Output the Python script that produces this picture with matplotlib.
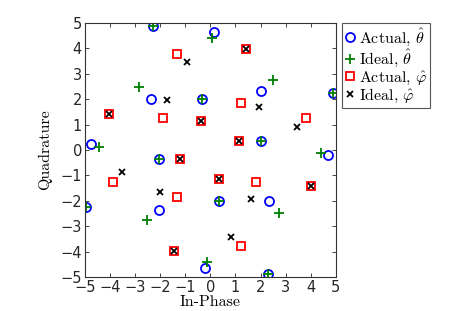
import matplotlib
matplotlib.use('Agg')
import matplotlib.pyplot as plt

# constellation points
actual_theta_i = [-2.30, 0.15, -2.38, -0.35, 2.00, 4.89, -4.76, -2.04, 2.00, 4.69, -4.95, -2.04, 0.35, 2.33, -0.22, 2.28]
actual_theta_q = [4.87, 4.66, 2.00, 2.00, 2.33, 2.26, 0.22, -0.34, 0.37, -0.20, -2.26, -2.34, -2.00, -2.00, -4.66, -4.87]

ideal_theta_i = [-2.30, 0.08, -2.84, -0.35, 2.48, 4.89, -4.45, -2.04, 2.00, 4.40, -4.95, -2.54, 0.35, 2.74, -0.15, 2.28]
ideal_theta_q = [4.87, 4.40, 2.47, 2.00, 2.76, 2.26, 0.13, -0.34, 0.37, -0.13, -2.26, -2.76, -2.00, -2.49, -4.40, -4.87]

actual_phi_i = [-1.32, 1.41, -4.04, -1.88, -0.38, 1.24, 3.80, -1.19, 1.14, -3.87, -1.31, 0.35, 1.84, 4.00, -1.45, 1.24]
actual_phi_q = [3.78, 3.98, 1.42, 1.25, 1.15, 1.84, 1.27, -0.34, 0.37, -1.27, -1.84, -1.15, -1.25, -1.42, -3.97, -3.77]

ideal_phi_i = [-0.92, 1.41, -4.04, -1.72, -0.38, 1.95, 3.46, -1.19, 1.14, -3.51, -2.01, 0.35, 1.64, 4.00, -1.45, 0.84]
ideal_phi_q = [3.45, 3.98, 1.42, 1.97, 1.15, 1.68, 0.89, -0.34, 0.37, -0.88, -1.67, -1.15, -1.94, -1.42, -3.97, -3.44]

ticks = list(range(-5, 6))

plt.rcParams['mathtext.fontset'] = 'cm'

fig = plt.figure(figsize=(4.71, 3.11), dpi=100)
ax = fig.add_axes([0.180, 0.109, 0.533, 0.817])

ax.plot(actual_theta_i, actual_theta_q, 'o', color='blue', mfc='none', ms=6.5, mew=1.3, label=r'Actual, $\hat{\theta}$')
ax.plot(ideal_theta_i, ideal_theta_q, '+', color='green', ms=7, mew=1.3, label=r'Ideal, $\hat{\theta}$')
ax.plot(actual_phi_i, actual_phi_q, 's', color='red', mfc='none', ms=5.5, mew=1.3, label=r'Actual, $\hat{\varphi}$')
ax.plot(ideal_phi_i, ideal_phi_q, 'x', color='black', ms=5, mew=1.3, label=r'Ideal, $\hat{\varphi}$')

ax.set_xlim(-5, 5)
ax.set_ylim(-5, 5)
ax.set_xticks(ticks)
ax.set_yticks(ticks)
ax.tick_params(direction='in', top=True, right=True, labelsize=10.5, length=3, width=0.6, colors='#262626', pad=2)
for sp in ax.spines.values():
    sp.set_linewidth(0.8)
    sp.set_color('#333333')

ax.set_xlabel('In-Phase', fontfamily='cmr10', fontsize=11.5, labelpad=0)
ax.set_ylabel('Quadrature', fontfamily='cmr10', fontsize=11.5, labelpad=6)

leg = ax.legend(loc='upper left', bbox_to_anchor=(1.025, 1.0), numpoints=1,
                handlelength=0.6, handletextpad=0.25, borderpad=0.2, labelspacing=0.0,
                borderaxespad=0, fancybox=False, framealpha=1,
                prop={'family': 'cmr10', 'size': 11.5})
leg.get_frame().set_edgecolor('#555555')
leg.get_frame().set_linewidth(0.8)

fig.savefig('out.png', dpi=100)
